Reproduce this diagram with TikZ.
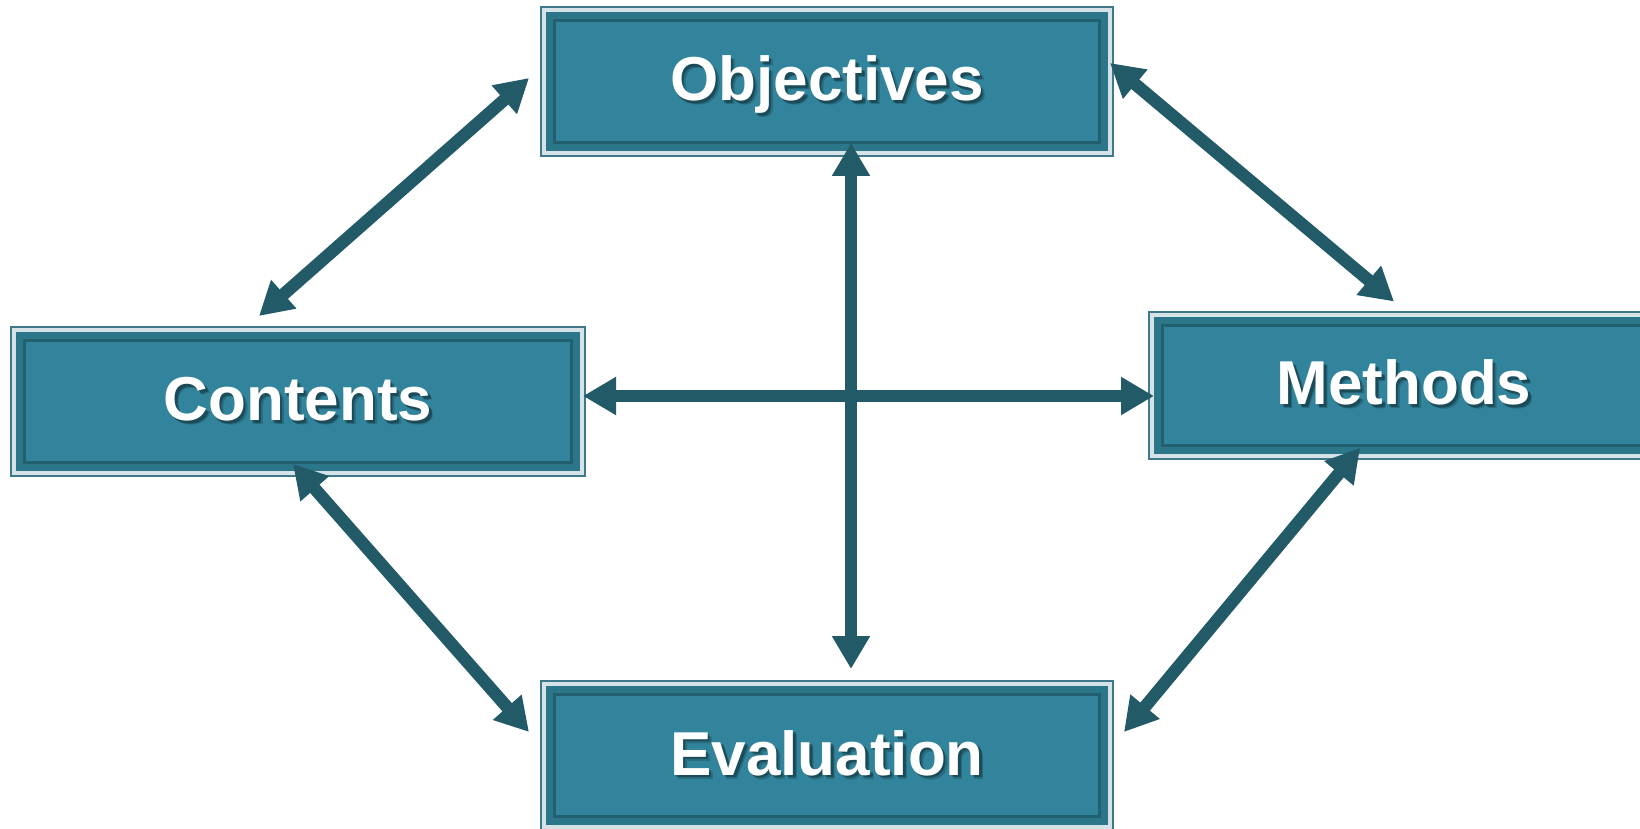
\documentclass[tikz,border=0pt]{standalone}
\usepackage{fontspec}
\setmainfont{Liberation Sans}
\usetikzlibrary{arrows.meta,calc}
\pgfdeclarelayer{background}
\pgfsetlayers{background,main}
\definecolor{boxfill}{HTML}{31849B}
\definecolor{boxdark}{HTML}{22606F}
\definecolor{boxband}{HTML}{2B7689}
\definecolor{boxlight}{HTML}{D5E3E8}
\definecolor{boxouter}{HTML}{3F7888}
\definecolor{arrowc}{HTML}{225A68}
\tikzset{
  lbl/.style={text=white, font=\bfseries\fontsize{62}{70}\selectfont,
    text height=45pt, text depth=6pt, inner sep=0pt, outer sep=0pt},
  shadowlbl/.style={lbl, text=black, text opacity=#1},
  conn/.style={draw=arrowc, line width=12.5pt,
    {Triangle[width=36pt,length=33pt]}-{Triangle[width=36pt,length=33pt]}},
}
\newcommand\layeredframe[2]{%
  \begin{pgfonlayer}{background}
    \fill[boxouter] (#1.south west) rectangle (#1.north east);
    \fill[boxlight] ([shift={(1.7pt,1.7pt)}]#1.south west) rectangle ([shift={(-1.7pt,-1.7pt)}]#1.north east);
    \fill[boxband] ([shift={(5.7pt,5.7pt)}]#1.south west) rectangle ([shift={(-5.7pt,-5.7pt)}]#1.north east);
    \fill[boxdark] ([shift={(13.4pt,13.4pt)}]#1.south west) rectangle ([shift={(-13.4pt,-13.4pt)}]#1.north east);
    \fill[boxfill] ([shift={(15.8pt,15.8pt)}]#1.south west) rectangle ([shift={(-15.8pt,-15.8pt)}]#1.north east);
    \node[shadowlbl=0.18] at ([shift={(4pt,-4pt)}]#1.center) {#2};
    \node[shadowlbl=0.3] at ([shift={(2.5pt,-2.5pt)}]#1.center) {#2};
  \end{pgfonlayer}}
\begin{document}
\begin{tikzpicture}[x=1pt,y=1pt]
  \useasboundingbox (0,0) rectangle (1640,828);
  \node[lbl, minimum width=574pt, minimum height=151pt] (obj) at (827,746.5) {Objectives};
  \node[lbl, minimum width=576pt, minimum height=151pt] (cont) at (298,426.5) {Contents};
  \node[lbl, minimum width=512pt, minimum height=149pt] (meth) at (1404,442.5) {Methods};
  \node[lbl, minimum width=574pt, minimum height=151pt] (eval) at (827,72.5) {Evaluation};
  \layeredframe{obj}{Objectives}
  \layeredframe{cont}{Contents}
  \layeredframe{meth}{Methods}
  \layeredframe{eval}{Evaluation}
  % connectors
  \draw[conn] ([shift={(-39pt,10pt)}]cont.north) -- ([shift={(-11pt,3.5pt)}]obj.west);
  \draw[conn] ([shift={(-4pt,18.5pt)}]obj.east) -- ([shift={(-10pt,9.5pt)}]meth.north);
  \draw[conn] ([shift={(-3pt,5.5pt)}]cont.east) -- ([shift={(6pt,-10.5pt)}]meth.west);
  \draw[conn] ([shift={(24pt,14pt)}]obj.south) -- ([shift={(24pt,11pt)}]eval.north);
  \draw[conn] ([shift={(-5pt,13pt)}]cont.south) -- ([shift={(-11pt,23.5pt)}]eval.west);
  \draw[conn] ([shift={(-44pt,12pt)}]meth.south) -- ([shift={(10pt,23.5pt)}]eval.east);
\end{tikzpicture}
\end{document}
